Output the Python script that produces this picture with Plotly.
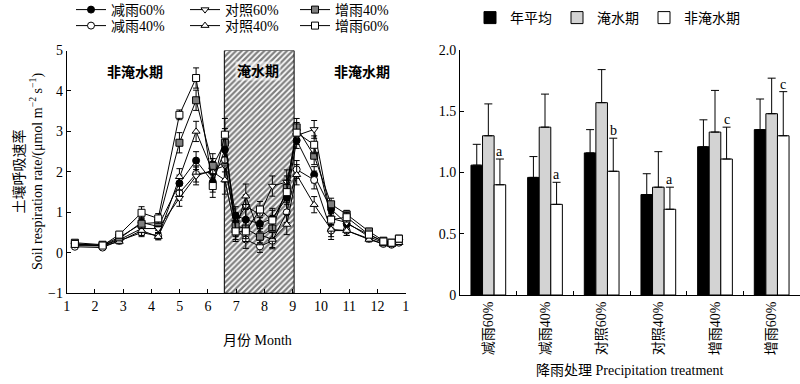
import plotly.graph_objects as go

# ---------------- data: left panel (monthly soil respiration) ----------------
sample_month = [1.29, 2.27, 2.86, 3.65, 4.24, 4.99, 5.58, 6.17, 6.60, 6.98, 7.34,
                7.84, 8.28, 8.79, 9.14, 9.76, 10.36, 10.91, 11.70, 12.21, 12.50, 12.76]

jianyu60 = [0.22, 0.18, 0.35, 0.75, 0.65, 1.72, 2.28, 1.75, 2.55, 0.92, 0.82,
            0.72, 0.85, 1.36, 2.78, 1.93, 1.08, 0.72, 0.45, 0.28, 0.22, 0.30]
jianyu40 = [0.15, 0.13, 0.30, 0.50, 0.42, 1.48, 1.95, 2.00, 2.30, 0.60, 0.33,
            0.16, 0.30, 1.00, 2.06, 1.80, 0.55, 0.55, 0.35, 0.22, 0.20, 0.25]
duizhao60 = [0.20, 0.18, 0.32, 0.60, 0.60, 1.35, 1.90, 2.05, 2.15, 0.75, 1.15,
             0.95, 1.65, 1.75, 2.90, 3.05, 0.85, 0.75, 0.40, 0.25, 0.22, 0.28]
duizhao40 = [0.18, 0.17, 0.28, 0.55, 0.40, 1.88, 3.00, 2.00, 1.80, 0.55, 1.40,
             0.45, 0.33, 0.70, 1.93, 1.19, 0.58, 0.55, 0.33, 0.22, 0.20, 0.25]
zengyu40 = [0.25, 0.20, 0.38, 0.72, 0.75, 2.72, 3.77, 2.15, 2.72, 0.66, 0.60,
            0.40, 0.60, 1.60, 3.10, 2.40, 1.20, 0.95, 0.53, 0.30, 0.25, 0.35]
zengyu60 = [0.22, 0.18, 0.45, 0.99, 0.85, 3.41, 4.32, 1.65, 2.92, 0.53, 0.53,
            1.07, 0.80, 1.50, 2.97, 2.67, 0.82, 0.88, 0.45, 0.28, 0.25, 0.35]

err_jianyu60 = [0.04, 0.03, 0.06, 0.12, 0.10, 0.20, 0.22, 0.25, 0.35, 0.22, 0.25,
                0.20, 0.25, 0.30, 0.20, 0.20, 0.15, 0.10, 0.06, 0.04, 0.04, 0.05]
err_jianyu40 = [0.04, 0.03, 0.06, 0.10, 0.08, 0.18, 0.20, 0.25, 0.30, 0.20, 0.22,
                0.15, 0.20, 0.25, 0.22, 0.22, 0.15, 0.12, 0.06, 0.04, 0.04, 0.05]
err_duizhao60 = [0.04, 0.03, 0.06, 0.10, 0.10, 0.20, 0.22, 0.28, 0.40, 0.25, 0.28,
                 0.20, 0.25, 0.30, 0.22, 0.22, 0.15, 0.10, 0.06, 0.04, 0.04, 0.05]
err_duizhao40 = [0.04, 0.03, 0.06, 0.12, 0.08, 0.20, 0.25, 0.25, 0.35, 0.22, 0.30,
                 0.20, 0.20, 0.25, 0.25, 0.20, 0.25, 0.12, 0.06, 0.04, 0.04, 0.05]
err_zengyu40 = [0.04, 0.03, 0.06, 0.12, 0.10, 0.25, 0.25, 0.30, 0.35, 0.22, 0.25,
                0.20, 0.25, 0.30, 0.22, 0.22, 0.15, 0.10, 0.06, 0.04, 0.04, 0.05]
err_zengyu60 = [0.04, 0.03, 0.08, 0.15, 0.12, 0.12, 0.25, 0.28, 0.40, 0.25, 0.25,
                0.20, 0.25, 0.30, 0.25, 0.22, 0.15, 0.12, 0.06, 0.04, 0.04, 0.05]

flood_start, flood_end = 6.58, 9.05
month_ticks = list(range(1, 14))
month_labels = ["1", "2", "3", "4", "5", "6", "7", "8", "9", "10", "11", "12", "1"]

# ---------------- data: right panel (treatment means) ----------------
treatments = ["减雨60%", "减雨40%", "对照60%", "对照40%", "增雨40%", "增雨60%"]
annual_mean = [1.06, 0.96, 1.16, 0.82, 1.21, 1.35]
annual_err = [0.17, 0.17, 0.19, 0.17, 0.22, 0.25]
flood_mean = [1.30, 1.37, 1.57, 0.88, 1.33, 1.48]
flood_err = [0.26, 0.27, 0.27, 0.29, 0.34, 0.29]
nonflood_mean = [0.90, 0.74, 1.01, 0.70, 1.11, 1.30]
nonflood_err = [0.21, 0.18, 0.27, 0.18, 0.26, 0.36]
sig_letters = ["a", "a", "b", "a", "c", "c"]

FONT = "Liberation Serif, Noto Sans CJK SC, serif"
W, H = 800, 384

fig = go.Figure()

# flood-period hatched box
fig.add_trace(go.Scatter(
    x=[flood_start, flood_end, flood_end, flood_start, flood_start],
    y=[-1, -1, 5, 5, -1], mode="lines", fill="toself",
    fillpattern=dict(shape="/", fgcolor="black", bgcolor="white", size=4, solidity=0.55),
    line=dict(color="black", width=1), showlegend=False, hoverinfo="skip",
    xaxis="x", yaxis="y"))

# one legend per entry so the 3x2 layout of the reference can be placed exactly
series = [
    ("减雨60%", jianyu60, err_jianyu60, "circle", "black", "legend"),
    ("减雨40%", jianyu40, err_jianyu40, "circle", "white", "legend2"),
    ("对照60%", duizhao60, err_duizhao60, "triangle-down", "white", "legend3"),
    ("对照40%", duizhao40, err_duizhao40, "triangle-up", "white", "legend4"),
    ("增雨40%", zengyu40, err_zengyu40, "square", "#7f7f7f", "legend5"),
    ("增雨60%", zengyu60, err_zengyu60, "square", "white", "legend6"),
]
for name, vals, errs, sym, fc, lg in series:
    fig.add_trace(go.Scatter(
        x=sample_month, y=vals, name=name, mode="lines+markers",
        line=dict(color="black", width=1),
        marker=dict(symbol=sym, size=7, color=fc, line=dict(color="black", width=1)),
        error_y=dict(type="data", array=errs, color="black", thickness=1, width=3),
        legend=lg, xaxis="x", yaxis="y"))

# right panel bars
bar_specs = [
    ("年平均", annual_mean, annual_err, "black"),
    ("淹水期", flood_mean, flood_err, "#d3d3d3"),
    ("非淹水期", nonflood_mean, nonflood_err, "white"),
]
for name, vals, errs, col in bar_specs:
    fig.add_trace(go.Bar(
        x=treatments, y=vals, name=name,
        marker=dict(color=col, line=dict(color="black", width=1)),
        error_y=dict(type="data", array=errs, symmetric=False, arrayminus=[0] * len(errs),
                     color="black", thickness=1, width=4),
        legend="legend7", xaxis="x2", yaxis="y2"))

tfont = dict(size=14, family=FONT, color="black")
annotations = [
    dict(x=3.42, y=4.47, xref="x", yref="y", text="<b>非淹水期</b>", showarrow=False, font=tfont),
    dict(x=7.78, y=4.5, xref="x", yref="y", text="<b>淹水期</b>", showarrow=False,
         font=tfont, bgcolor="rgba(255,255,255,0.55)"),
    dict(x=11.45, y=4.47, xref="x", yref="y", text="<b>非淹水期</b>", showarrow=False, font=tfont),
    dict(x=257 / W, y=1 - 340 / H, xref="paper", yref="paper", text="月份 Month",
         xanchor="center", yanchor="middle", showarrow=False, font=tfont),
    dict(x=630 / W, y=1 - 370 / H, xref="paper", yref="paper",
         text="降雨处理 Precipitation treatment", xanchor="center", yanchor="middle",
         showarrow=False, font=tfont),
    dict(x=28 / W, y=1 - 172 / H, xref="paper", yref="paper", textangle=-90,
         xanchor="center", yanchor="middle",
         text="土壤呼吸速率<br>Soil respiration rate/(μmol m<sup>−2</sup> s<sup>−1</sup>)",
         showarrow=False, font=tfont),
]
for i, (lt, v, e) in enumerate(zip(sig_letters, nonflood_mean, nonflood_err)):
    annotations.append(dict(x=i + 0.205, y=v + e, xref="x2", yref="y2", text=lt,
                            showarrow=False, yanchor="bottom", yshift=-2, font=tfont))

axis_common = dict(showline=True, linecolor="black", linewidth=1, ticks="inside",
                   ticklen=4, tickcolor="black", showgrid=False, zeroline=False,
                   automargin=False, tickfont=dict(size=14, family=FONT, color="black"))

leg_common = dict(font=dict(size=14, family=FONT, color="black"), bgcolor="rgba(0,0,0,0)",
                  yanchor="top", xanchor="left", tracegroupgap=0, itemwidth=30)

fig.update_layout(
    width=W, height=H, margin=dict(l=0, r=0, t=0, b=0, autoexpand=False),
    paper_bgcolor="white", plot_bgcolor="white",
    font=dict(family=FONT, color="black"),
    barmode="group", bargap=0.387, bargroupgap=0,
    xaxis=dict(domain=[66.7 / W, 405.7 / W], range=[1, 13], tickvals=month_ticks,
               ticktext=month_labels, anchor="y", **axis_common),
    yaxis=dict(domain=[1 - 293.3 / H, 1 - 50.5 / H], range=[-1, 5],
               tickvals=[-1, 0, 1, 2, 3, 4, 5], ticktext=["−1", "0", "1", "2", "3", "4", "5"],
               anchor="x", **axis_common),
    xaxis2=dict(domain=[460 / W, 1.0], anchor="y2", tickangle=-90, tickson="boundaries",
                range=[-0.5, 5.5], **axis_common),
    yaxis2=dict(domain=[1 - 295 / H, 1 - 50 / H], range=[0, 2.0],
                tickvals=[0, 0.5, 1.0, 1.5, 2.0], ticktext=["0", "0.5", "1.0", "1.5", "2.0"],
                anchor="x2", **axis_common),
    legend=dict(x=71 / W, y=1 + 6 / H, **leg_common),
    legend2=dict(x=71 / W, y=1 - 10 / H, **leg_common),
    legend3=dict(x=185 / W, y=1 + 6 / H, **leg_common),
    legend4=dict(x=185 / W, y=1 - 10 / H, **leg_common),
    legend5=dict(x=295 / W, y=1 + 6 / H, **leg_common),
    legend6=dict(x=295 / W, y=1 - 10 / H, **leg_common),
    legend7=dict(x=470 / W, y=1 - 2 / H, orientation="h", **leg_common),
    annotations=annotations,
)

fig.write_html("out.html", post_script="document.body.style.margin='0';",
               config={"displayModeBar": False})
